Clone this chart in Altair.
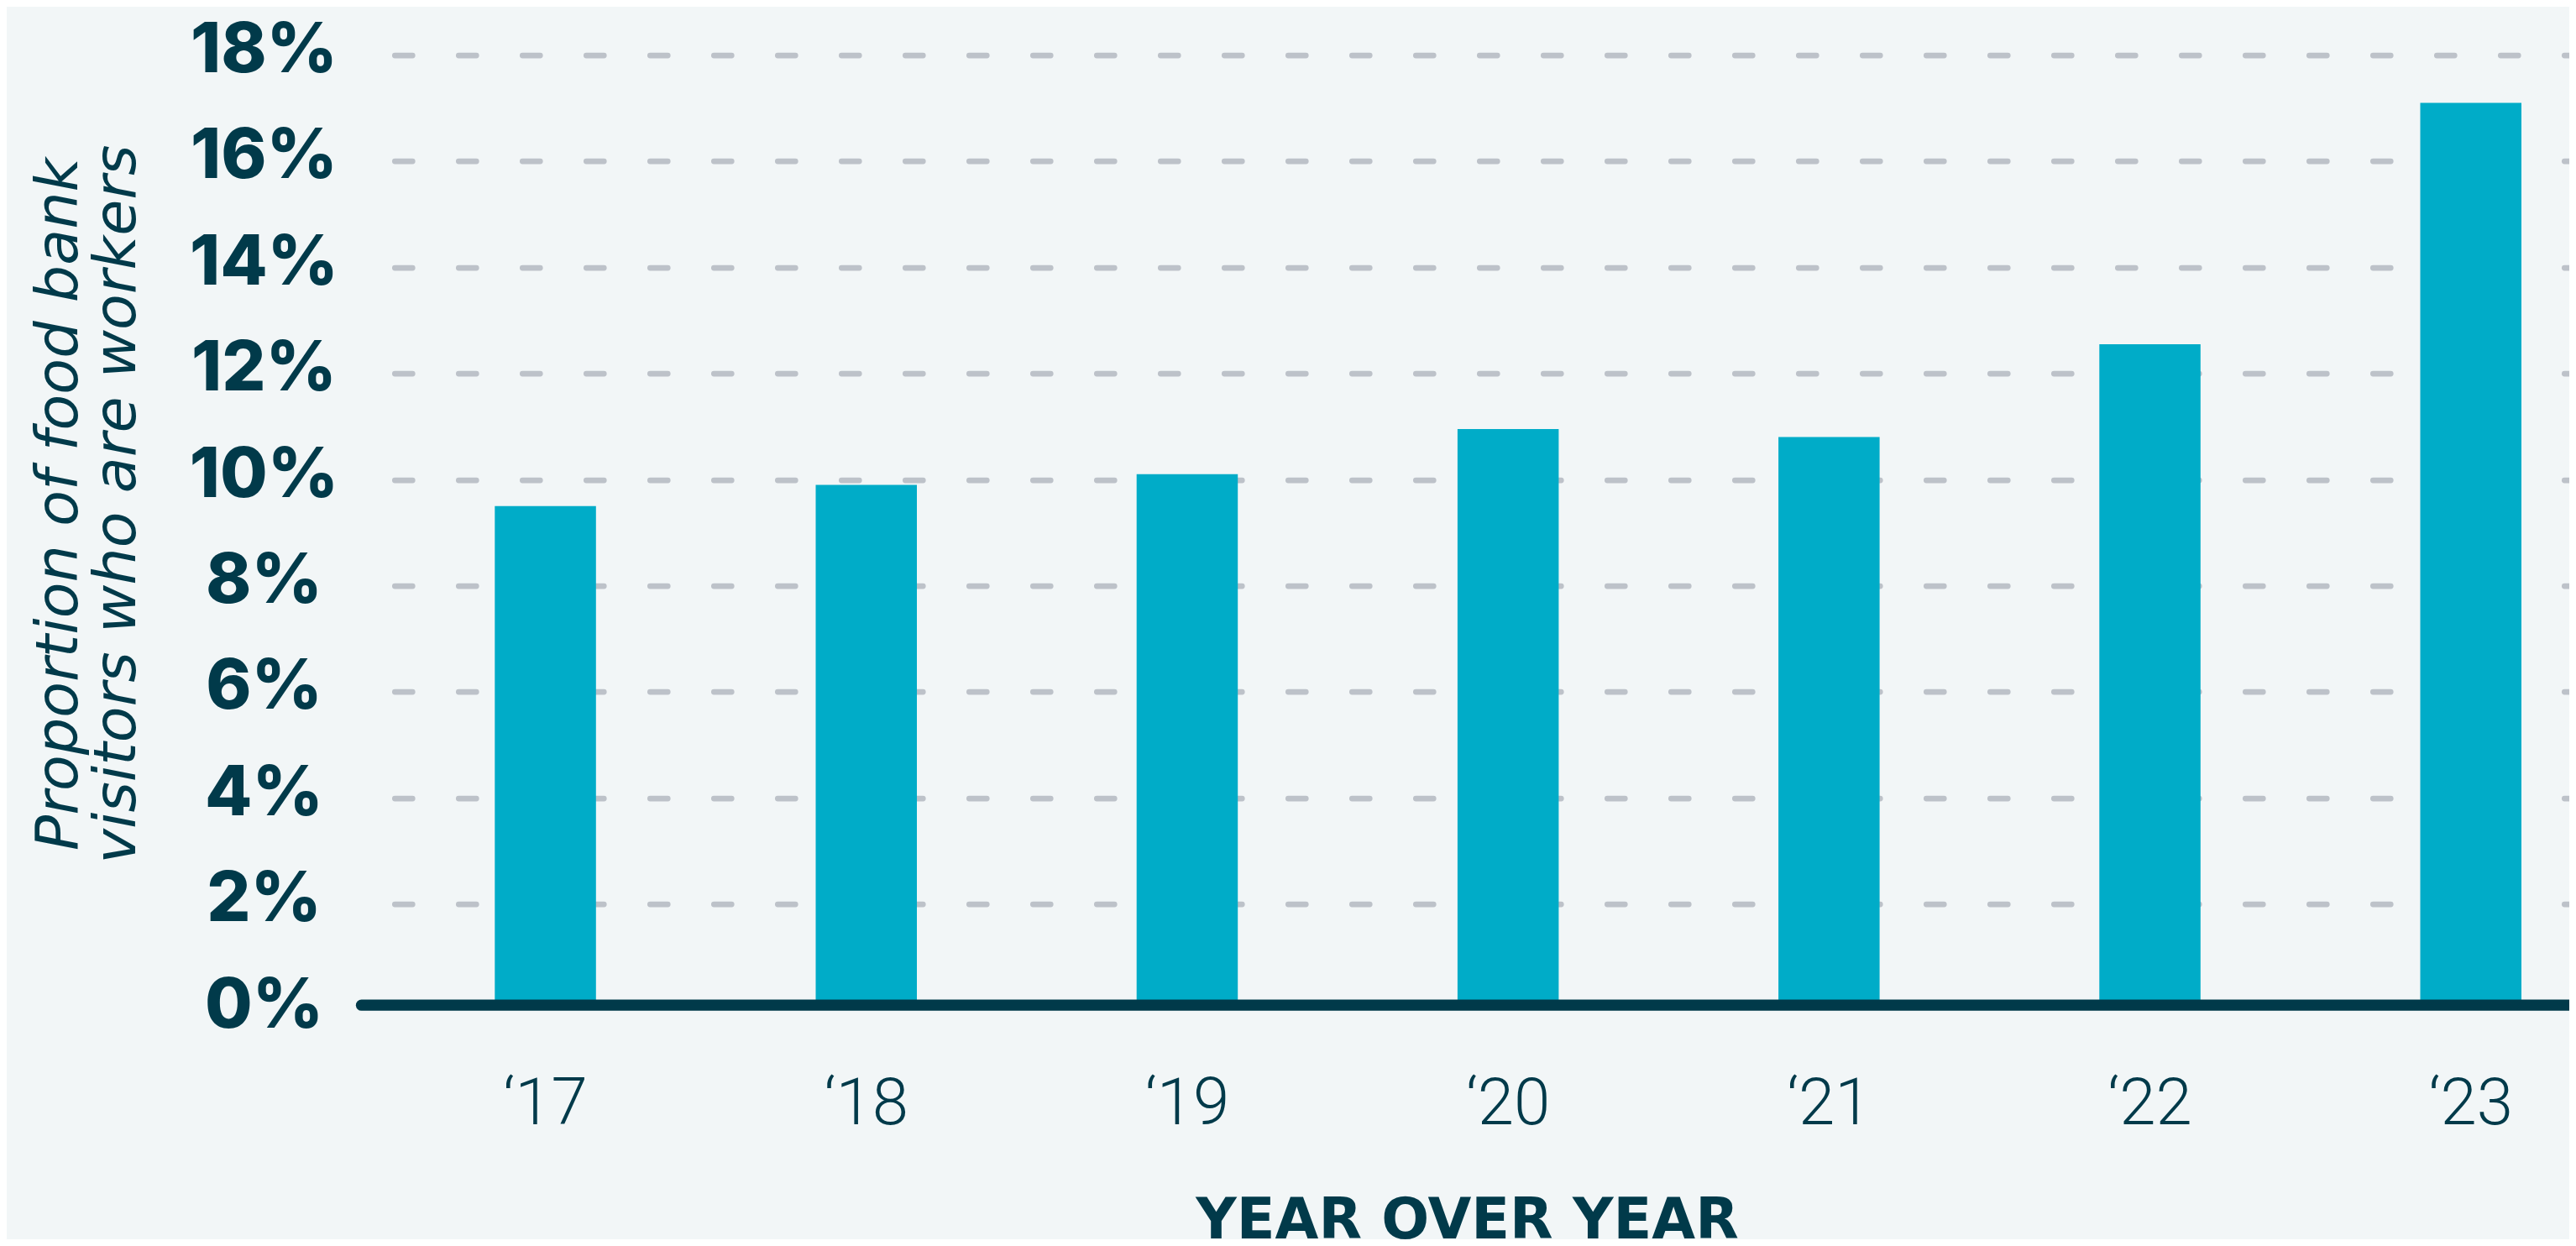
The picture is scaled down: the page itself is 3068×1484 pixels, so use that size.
import altair as alt
import pandas as pd

# ---- data ----
years = ["\u201817", "\u201818", "\u201819", "\u201820", "\u201821", "\u201822", "\u201823"]
values = [9.5, 9.9, 10.1, 10.95, 10.8, 12.55, 17.1]
y_ticks = [0, 2, 4, 6, 8, 10, 12, 14, 16, 18]
y_title = ["Proportion of food bank", "visitors who are workers"]
x_title = "YEAR OVER YEAR"

df = pd.DataFrame({"year": years, "value": values})

DARK = "#013A4A"
BAR = "#00ACC8"
GRID = "#BDC2C9"
BG = "#F2F6F7"

x_axis = alt.Axis(
    title=x_title,
    labelAngle=0,
    labelFont="Roboto",
    labelFontSize=78,
    labelFontWeight=300,
    labelColor=DARK,
    labelBaseline="alphabetic",
    labelPadding=141.3,
    labelLimit=0,
    ticks=False,
    tickSize=0,
    grid=False,
    domain=True,
    domainColor=DARK,
    domainWidth=13.3,
    domainCap="round",
    offset=-6.3,
    zindex=1,
    titleFont="DejaVu Sans",
    titleFontWeight="bold",
    titleFontSize=67,
    titleColor=DARK,
    titleX=1317,
    titleY=278,
    titleAlign="center",
    titleBaseline="alphabetic",
    titleLimit=0,
)

y_axis = alt.Axis(
    title=y_title,
    values=y_ticks,
    labelExpr="datum.value + '%'",
    labelFont="Inter",
    labelFontWeight=800,
    labelFontSize=82,
    labelColor=DARK,
    labelAlign="center",
    labelBaseline="middle",
    labelPadding=116,
    labelOffset=-5,
    labelOverlap=False,
    labelLimit=0,
    ticks=False,
    tickSize=0,
    domain=False,
    grid=True,
    gridColor=GRID,
    gridWidth=6.7,
    gridDash=[21, 55],
    gridDashOffset=36.2,
    gridCap="round",
    gridOpacity={"condition": {"test": "datum.value === 0", "value": 0}, "value": 1},
    zindex=0,
    titleFont="DejaVu Sans",
    titleFontStyle="italic",
    titleFontWeight=200,
    titleFontSize=70,
    titleLineHeight=69,
    titleColor=DARK,
    titleAngle=270,
    titleX=-338.5,
    titleY=534.4,
    titleAlign="center",
    titleBaseline="alphabetic",
    titleLimit=0,
)

chart = (
    alt.Chart(df)
    .mark_bar(color=BAR)
    .encode(
        x=alt.X(
            "year:N",
            sort=years,
            scale=alt.Scale(paddingInner=0.6847, paddingOuter=0.28295, align=0.7365),
            axis=x_axis,
        ),
        y=alt.Y(
            "value:Q",
            scale=alt.Scale(domain=[0, 18], nice=False, zero=True),
            axis=y_axis,
        ),
    )
    .properties(
        width=2630,
        height=1137.4,
        padding={"left": 422, "top": 57.6, "right": 0, "bottom": 273},
        autosize=alt.AutoSizeParams(type="none"),
        background=BG,
    )
    .configure_view(strokeWidth=0)
)

chart.save("out.html", embed_options={"renderer": "svg", "actions": False})
